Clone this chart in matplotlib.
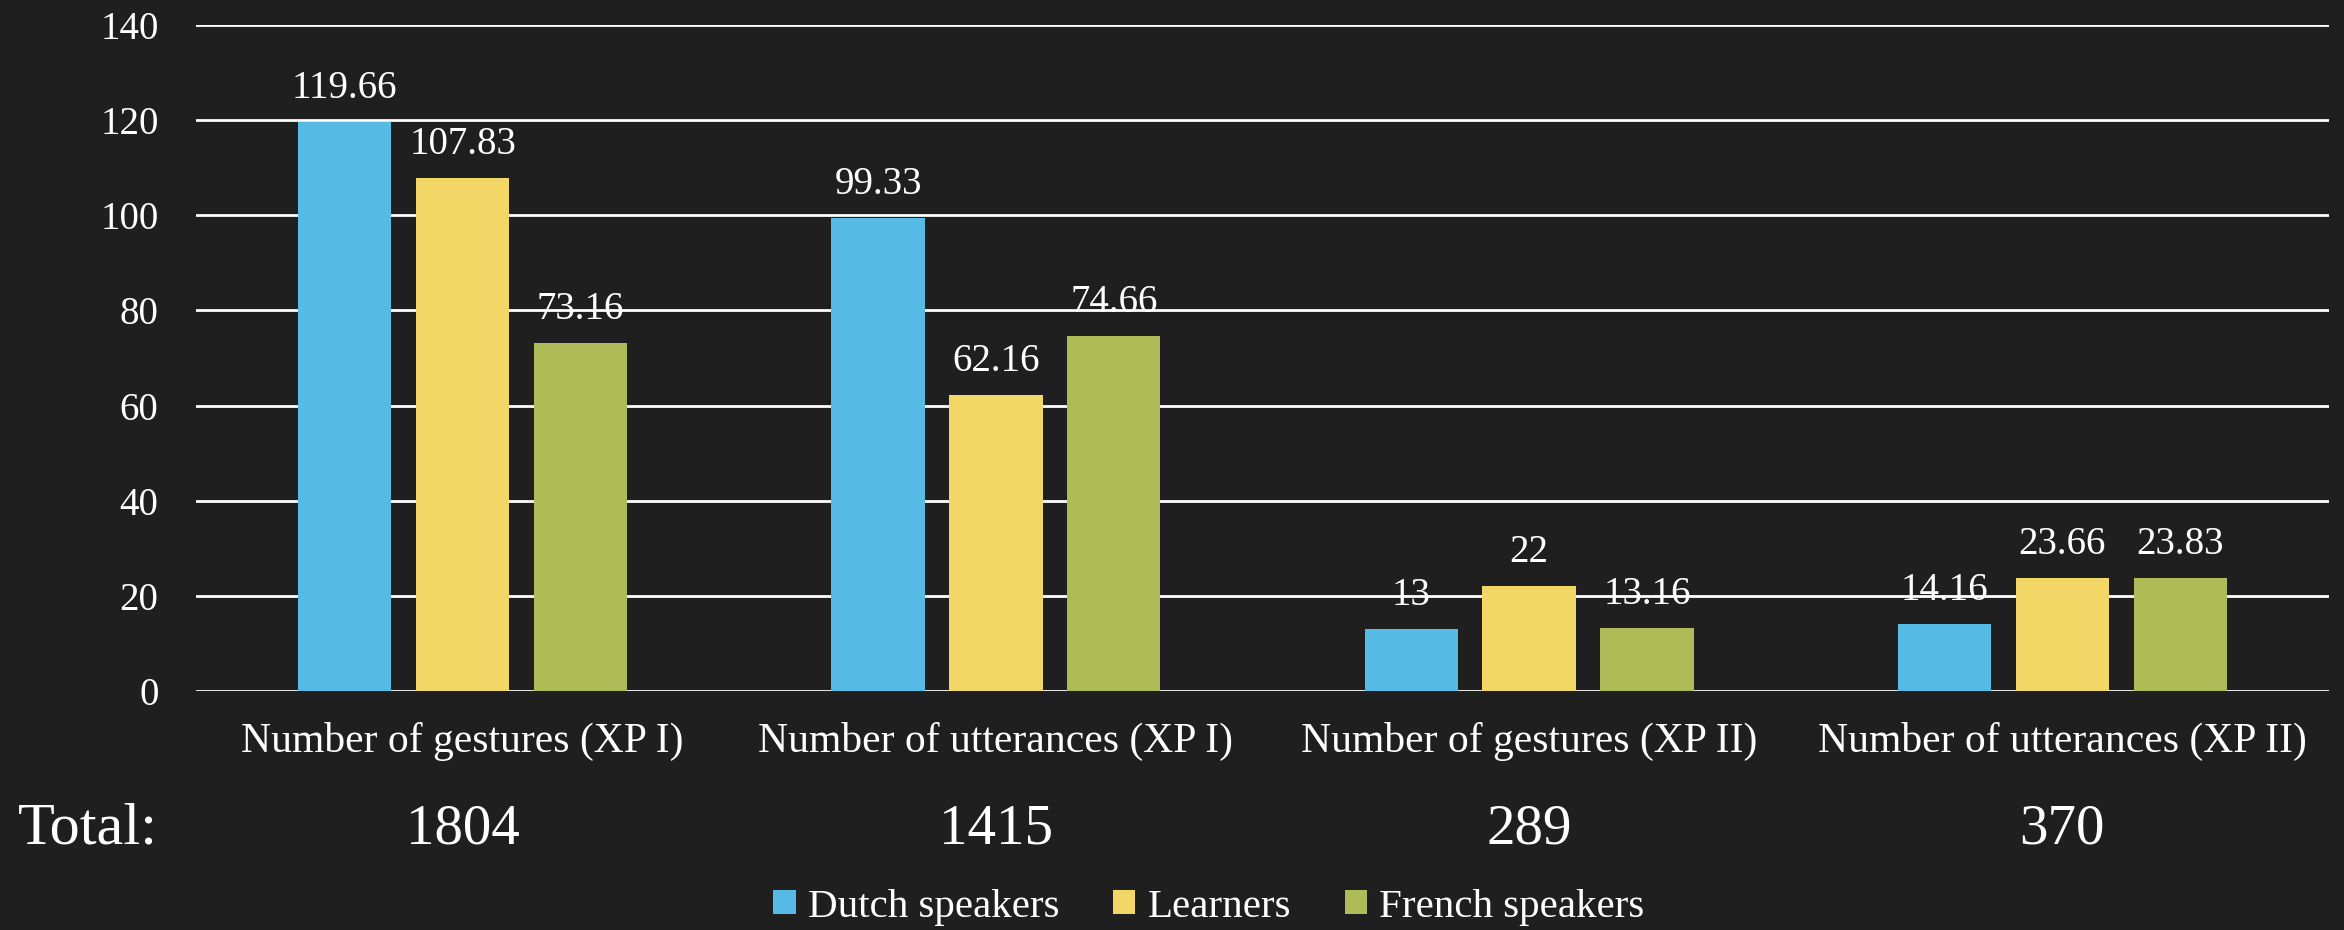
import matplotlib
matplotlib.use("Agg")
import matplotlib.pyplot as plt
from matplotlib.patches import Patch
import numpy as np

categories = ["Number of gestures (XP I)", "Number of utterances (XP I)",
              "Number of gestures (XP II)", "Number of utterances (XP II)"]
totals = ["1804", "1415", "289", "370"]
series_names = ["Dutch speakers", "Learners", "French speakers"]
dutch = [119.66, 99.33, 13, 14.16]
learners = [107.83, 62.16, 22, 23.66]
french = [73.16, 74.66, 13.16, 23.83]
colors = ["#55BBE5", "#F2D766", "#AEBC58"]

BG = "#1f1f1f"
FONT = ["Liberation Serif", "DejaVu Serif"]
plt.rcParams["font.family"] = FONT
FS = 28

fig = plt.figure(figsize=(23.44, 9.30), dpi=100)
fig.patch.set_facecolor(BG)
ax = fig.add_axes([196/2344, 1-691/930, (2329-196)/2344, (691-25)/930])
ax.set_facecolor(BG)

x = np.arange(len(categories))
width = 0.175
step = 0.221
series = [dutch, learners, french]
for i, (vals, col) in enumerate(zip(series, colors)):
    pos = x + (i - 1) * step
    ax.bar(pos, vals, width=width, color=col, zorder=3)
    for p, v in zip(pos, vals):
        ax.annotate(f"{v:g}", (p, v), xytext=(0, 24), textcoords="offset pixels",
                    ha="center", va="baseline", color="white", fontsize=FS)

ax.set_xlim(-0.5, 3.5)
ax.set_ylim(0, 140)
ax.set_yticks(range(0, 141, 20))
ax.yaxis.grid(True, color="white", linewidth=2.0, zorder=1)
ax.set_axisbelow(True)
ax.tick_params(axis="y", length=0, pad=27, labelsize=FS, labelcolor="white")
ax.set_xticks([])
for s in ax.spines.values():
    s.set_visible(False)

trans = matplotlib.transforms.blended_transform_factory(ax.transData, ax.transAxes)
for xi, cat, tot in zip(x, categories, totals):
    ax.text(xi, (691-752)/666, cat, transform=trans, ha="center", va="baseline",
            color="white", fontsize=30)
    ax.text(xi, (691-843)/666, tot, transform=trans, ha="center", va="baseline",
            color="white", fontsize=41)
fig.text(18/2344, 1-843/930, "Total:", ha="left", va="baseline", color="white", fontsize=43.5)

handles = [Patch(facecolor=c, edgecolor="none") for c in colors]
leg = fig.legend(handles, series_names, loc="center", bbox_to_anchor=(1209/2344, 1-907/930),
                 ncol=3, frameon=False, fontsize=29.5, handlelength=0.55, handleheight=0.55,
                 handletextpad=0.3, columnspacing=1.3, borderpad=0, borderaxespad=0)
for t in leg.get_texts():
    t.set_color("white")

fig.savefig("out.png", dpi=100, facecolor=BG)
